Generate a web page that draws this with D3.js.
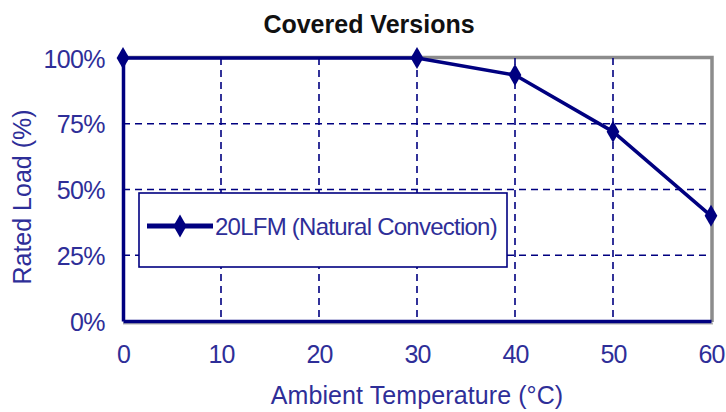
<!DOCTYPE html>
<html><head><meta charset="utf-8">
<script src="https://cdn.jsdelivr.net/npm/d3@7"></script>
<style>body{margin:0;background:#fff}svg{display:block}</style>
</head><body>
<script>
const temps = [0, 30, 40, 50, 60];
const loads = [100, 100, 93.5, 72, 40];
const xTicks = [0, 10, 20, 30, 40, 50, 60];
const yTicks = [0, 25, 50, 75, 100];
const seriesName = "20LFM (Natural Convection)";
const title = "Covered Versions";
const xTitle = "Ambient Temperature (°C)";
const yTitle = "Rated Load (%)";

const W = 726, H = 412;
const navy = "#000080", textBlue = "#2e2e98", grey = "#8c8c8c";
const svg = d3.select("body").append("svg").attr("width", W).attr("height", H);
const x = d3.scaleLinear().domain([0, 60]).range([123, 711]);
const y = d3.scaleLinear().domain([0, 100]).range([321, 58]);
const font = "'Liberation Sans', Arial, sans-serif";

// title
svg.append("text").attr("x", 369).attr("y", 33).attr("text-anchor", "middle")
  .attr("font-family", font).attr("font-weight", "bold").attr("font-size", 25)
  .attr("fill", "#111").text(title);

// grey top/right frame
svg.append("path").attr("d", `M${x(0)},${y(100)-0.5}H${x(60)+1}V${y(0)+1}`)
  .attr("fill", "none").attr("stroke", grey).attr("stroke-width", 3.5);
svg.append("line").attr("x1", x(0)).attr("x2", x(60)+2).attr("y1", y(0)+2.5).attr("y2", y(0)+2.5)
  .attr("stroke", "#b0b0b0").attr("stroke-width", 2);

// grid
const grid = svg.append("g").attr("stroke", navy).attr("stroke-width", 1.6).attr("stroke-dasharray", "7,5");
grid.selectAll("line.v").data(xTicks.filter(d => d > 0 && d < 60)).join("line")
  .attr("x1", d => x(d)).attr("x2", d => x(d)).attr("y1", y(100)).attr("y2", y(0));
grid.selectAll("line.h").data(yTicks.filter(d => d > 0 && d < 100)).join("line")
  .attr("x1", x(0)).attr("x2", x(60)).attr("y1", d => y(d)).attr("y2", d => y(d));

// axes (navy left & bottom)
const xAxis = d3.axisBottom(x).tickValues(xTicks).tickSize(0).tickPadding(24).tickFormat(d3.format("d"));
const gx = svg.append("g").attr("transform", `translate(0,${y(0)})`).call(xAxis);
gx.select(".domain").attr("stroke", navy).attr("stroke-width", 3.5);
gx.selectAll("text").attr("font-family", font).attr("font-size", 25).attr("fill", textBlue)
  .attr("letter-spacing", -1);

const yAxis = d3.axisLeft(y).tickValues(yTicks).tickSize(0).tickPadding(18).tickFormat(d => d + "%");
const gy = svg.append("g").attr("transform", `translate(${x(0)},0)`).call(yAxis);
gy.select(".domain").attr("stroke", navy).attr("stroke-width", 3.5);
gy.selectAll("text").attr("font-family", font).attr("font-size", 25).attr("fill", textBlue)
  .attr("letter-spacing", -0.6).attr("dy", "0.36em");

// axis titles
svg.append("text").attr("x", 417).attr("y", 404).attr("text-anchor", "middle")
  .attr("font-family", font).attr("font-size", 25).attr("fill", textBlue).attr("letter-spacing", 0.1).text(xTitle);
svg.append("text").attr("transform", "translate(31,197) rotate(-90)").attr("text-anchor", "middle")
  .attr("font-family", font).attr("font-size", 25).attr("fill", textBlue).text(yTitle);

// legend
const lg = svg.append("g");
lg.append("rect").attr("x", 139).attr("y", 193).attr("width", 368).attr("height", 74)
  .attr("fill", "#fff").attr("stroke", navy).attr("stroke-width", 1.6);
lg.append("line").attr("x1", 147).attr("x2", 213).attr("y1", 226).attr("y2", 226)
  .attr("stroke", navy).attr("stroke-width", 5);
lg.append("path").attr("d", d3.symbol(d3.symbolDiamond, 150)()).attr("transform", "translate(180,226)")
  .attr("fill", navy);
lg.append("text").attr("x", 215).attr("y", 235).attr("font-family", font).attr("font-size", 24)
  .attr("letter-spacing", -0.75).attr("fill", textBlue).text(seriesName);

// data line
const pts = temps.map((t, i) => [t, loads[i]]);
svg.append("path").datum(pts)
  .attr("d", d3.line().x(d => x(d[0])).y(d => y(d[1])))
  .attr("fill", "none").attr("stroke", navy).attr("stroke-width", 3.5).attr("stroke-linejoin", "round");
svg.selectAll("path.m").data(pts).join("path").attr("class", "m")
  .attr("d", d3.symbol(d3.symbolDiamond, 140)())
  .attr("transform", d => `translate(${x(d[0])},${y(d[1])})`).attr("fill", navy);
</script>
</body></html>
